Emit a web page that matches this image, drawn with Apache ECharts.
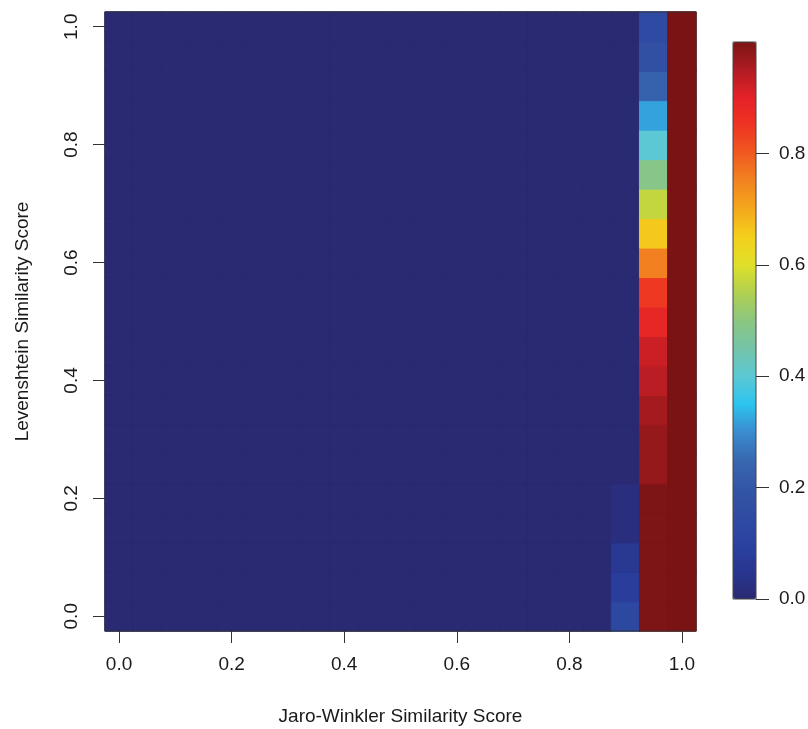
<!DOCTYPE html>
<html lang="en">
  <head>
    <meta charset="UTF-8" />
    <title>Jaro-Winkler vs Levenshtein</title>
    <script src="https://cdn.jsdelivr.net/npm/echarts@6/dist/echarts.min.js"></script>
  </head>
  <body style="margin: 0; background: #fff">
    <style>
      #chart {
        width: 808px;
        height: 729px;
      }
    </style>
    <div id="chart"></div>

    <script>
      // bin centres on both axes (step 0.05)
      const xBins = ['0.00', '0.05', '0.10', '0.15', '0.20', '0.25', '0.30', '0.35', '0.40', '0.45', '0.50',
        '0.55', '0.60', '0.65', '0.70', '0.75', '0.80', '0.85', '0.90', '0.95', '1.00'];
      const yBins = ['0.00', '0.05', '0.10', '0.15', '0.20', '0.25', '0.30', '0.35', '0.40', '0.45', '0.50',
        '0.55', '0.60', '0.65', '0.70', '0.75', '0.80', '0.85', '0.90', '0.95', '1.00'];

      // every cell left of x = 0.90 reads as 0 (navy)
      const baseValue = 0;
      // columns that are not navy, values listed from y = 0.00 upwards
      const colX090 = [0.13, 0.08, 0.06, 0.02, 0.02, 0, 0, 0, 0, 0, 0,
        0, 0, 0, 0, 0, 0, 0, 0, 0, 0];
      const colX095 = [0.997, 0.997, 0.997, 0.997, 0.997, 0.975, 0.975, 0.96, 0.94, 0.925, 0.885,
        0.845, 0.755, 0.66, 0.57, 0.49, 0.40, 0.32, 0.23, 0.17, 0.14];
      const colX100 = [1, 1, 1, 1, 1, 1, 1, 1, 1, 1, 1,
        1, 1, 1, 1, 1, 1, 1, 1, 1, 1];

      const colourbarTicks = [0, 0.2, 0.4, 0.6, 0.8];
      const palette = ['#2a2a72', '#283690', '#2b42a0', '#2f4ca2', '#3456a6', '#3868b0', '#3a8cd0',
        '#2cc4ee', '#5cc8d4', '#74c4a8', '#8cc680', '#b0d050', '#e0e028', '#f4d01c', '#f4a81c',
        '#f28420', '#f05a20', '#ee3422', '#e42228', '#b01c22', '#7a1414'];

      const special = { '0.90': colX090, '0.95': colX095, '1.00': colX100 };
      const cells = [];
      xBins.forEach((xb, i) => {
        yBins.forEach((yb, j) => {
          const col = special[xb];
          const v = col ? col[j] : baseValue;
          // border in the cell's own colour hides anti-aliasing seams between cells
          cells.push({
            value: [i, j, v],
            itemStyle: { borderColor: echarts.color.lerp(v, palette), borderWidth: 1 }
          });
        });
      });

      const font = "'Liberation Sans', Arial, sans-serif";
      const textColor = '#1a1a1a';
      const every4 = (idx) => idx % 4 === 0;

      const chart = echarts.init(document.getElementById('chart'));
      chart.setOption({
        animation: false,
        textStyle: { fontFamily: font },
        grid: [
          {
            left: 105, right: 112, top: 12, bottom: 98,
            show: true, z: 5, backgroundColor: 'transparent',
            borderColor: '#333', borderWidth: 1,
            outerBoundsMode: 'none'
          },
          {
            left: 733, top: 42, width: 23, height: 557,
            show: true, z: 10, backgroundColor: 'transparent',
            borderColor: '#444', borderWidth: 1,
            outerBoundsMode: 'none'
          }
        ],
        xAxis: [
          {
            type: 'category',
            data: xBins,
            gridIndex: 0,
            name: 'Jaro-Winkler Similarity Score',
            nameLocation: 'middle',
            nameGap: 76,
            nameTextStyle: { fontSize: 19, color: textColor, fontFamily: font },
            axisLine: { show: false },
            axisTick: { show: true, alignWithLabel: true, interval: every4, length: 12, lineStyle: { color: '#333' } },
            axisLabel: {
              interval: every4, margin: 24, fontSize: 19, color: textColor, fontFamily: font,
              formatter: (v) => Number(v).toFixed(1)
            },
            splitLine: { show: false }
          },
          { type: 'value', gridIndex: 1, show: false, min: 0, max: 1 }
        ],
        yAxis: [
          {
            type: 'category',
            data: yBins,
            gridIndex: 0,
            name: 'Levenshtein Similarity Score',
            nameLocation: 'middle',
            nameGap: 73,
            nameRotate: 90,
            nameTextStyle: { fontSize: 19, color: textColor, fontFamily: font },
            axisLine: { show: false },
            axisTick: { show: true, alignWithLabel: true, interval: every4, length: 12, lineStyle: { color: '#333' } },
            axisLabel: {
              interval: every4, rotate: 90, margin: 24, fontSize: 19, color: textColor, fontFamily: font,
              formatter: (v) => Number(v).toFixed(1)
            },
            splitLine: { show: false }
          },
          {
            type: 'value',
            gridIndex: 1,
            position: 'right',
            z: 12,
            min: 0,
            max: 1,
            axisLine: { show: false, onZero: false },
            axisTick: { show: true, inside: false, length: 13, customValues: colourbarTicks, lineStyle: { color: '#333' } },
            axisLabel: {
              margin: 23, fontSize: 19, color: textColor, fontFamily: font,
              customValues: colourbarTicks,
              formatter: (v) => v.toFixed(1)
            },
            splitLine: { show: false }
          }
        ],
        visualMap: {
          type: 'continuous',
          seriesIndex: 0,
          dimension: 2,
          min: 0,
          max: 1,
          calculable: false,
          hoverLink: false,
          left: 733,
          top: 42,
          padding: 0,
          itemWidth: 23,
          itemHeight: 557,
          text: ['', ''],
          showLabel: false,
          inRange: { color: palette }
        },
        series: [
          {
            type: 'heatmap',
            xAxisIndex: 0,
            yAxisIndex: 0,
            data: cells,
            progressive: 0,
            silent: true,
            emphasis: { disabled: true }
          }
        ]
      });
    </script>
  </body>
</html>
